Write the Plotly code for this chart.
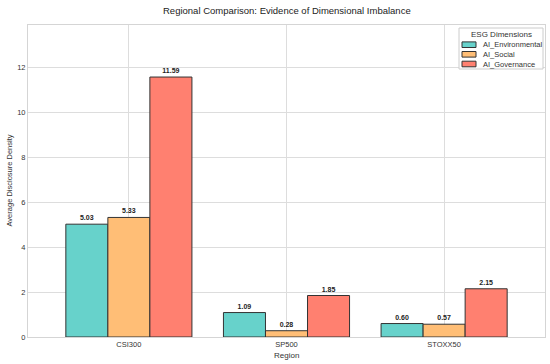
import plotly.graph_objects as go

regions = ["CSI300", "SP500", "STOXX50"]
ai_environmental = [5.03, 1.09, 0.60]
ai_social = [5.33, 0.28, 0.57]
ai_governance = [11.59, 1.85, 2.15]
series_names = ["AI_Environmental", "AI_Social", "AI_Governance"]
colors = ["#67D2CB", "#FFBE76", "#FF8070"]
y_ticks = [0, 2, 4, 6, 8, 10, 12]

W, H = 550, 364
ML, MR, MT, MB = 28, 5, 25, 27
PW, PH = W - ML - MR, H - MT - MB

def px(x):
    return (x - ML) / PW

def py(y):
    return (H - MB - y) / PH

FONT = "Liberation Sans, Arial, sans-serif"

fig = go.Figure()
for name, vals, col in zip(series_names, [ai_environmental, ai_social, ai_governance], colors):
    fig.add_trace(go.Bar(
        x=regions, y=vals, name=name,
        marker=dict(color=col, line=dict(color="#333333", width=1)),
        text=[f"{v:.2f}" for v in vals], textposition="outside",
        outsidetextfont=dict(size=7, color="#222222", family=FONT),
        texttemplate="<b>%{text}</b>",
        cliponaxis=False, showlegend=False, hoverinfo="skip",
    ))

shapes = []
annotations = []
# legend box
shapes.append(dict(type="rect", xref="paper", yref="paper",
                   x0=px(459), x1=px(543), y0=py(69), y1=py(28),
                   fillcolor="rgba(255,255,255,0.9)", line=dict(color="#cccccc", width=1), layer="above"))
annotations.append(dict(text="ESG Dimensions", xref="paper", yref="paper",
                        x=px(501), y=py(34.5), xanchor="center", yanchor="middle",
                        showarrow=False, font=dict(size=8, color="#333333", family=FONT)))
row_y = [44.7, 54.3, 64.0]
for name, col, ry in zip(series_names, colors, row_y):
    shapes.append(dict(type="rect", xref="paper", yref="paper",
                       x0=px(462), x1=px(476), y0=py(ry + 2.8), y1=py(ry - 2.8),
                       fillcolor=col, line=dict(color="#333333", width=1), layer="above"))
    annotations.append(dict(text=name, xref="paper", yref="paper",
                            x=px(481), y=py(ry), xanchor="left", yanchor="middle",
                            showarrow=False, font=dict(size=7.5, color="#333333", family=FONT)))

# axis titles
annotations.append(dict(text="Region", xref="paper", yref="paper",
                        x=px((ML + W - MR) / 2), y=py(355), xanchor="center", yanchor="middle",
                        showarrow=False, font=dict(size=8, color="#333333", family=FONT)))
annotations.append(dict(text="Average Disclosure Density", xref="paper", yref="paper",
                        x=px(8.5), y=py((MT + H - MB) / 2), xanchor="center", yanchor="middle",
                        textangle=-90, showarrow=False, font=dict(size=7.5, color="#333333", family=FONT)))
# title
annotations.append(dict(text="Regional Comparison: Evidence of Dimensional Imbalance",
                        xref="paper", yref="paper", x=px(287), y=py(11),
                        xanchor="center", yanchor="middle", showarrow=False,
                        font=dict(size=9.5, color="#222222", family=FONT)))

fig.update_layout(
    width=W, height=H,
    barmode="group", bargap=0.2, bargroupgap=0,
    paper_bgcolor="white", plot_bgcolor="white",
    font=dict(family=FONT, size=8, color="#333333"),
    margin=dict(l=ML, r=MR, t=MT, b=MB, autoexpand=False),
    showlegend=False, hovermode=False,
    shapes=shapes, annotations=annotations,
    xaxis=dict(
        range=[-0.64, 2.64], showgrid=True, gridcolor="#dddddd",
        showline=True, linecolor="#d5d5d5", mirror=True, ticks="",
        tickfont=dict(size=7.5), automargin=False, fixedrange=True,
    ),
    yaxis=dict(
        range=[0, 13.91], tickvals=y_ticks, showgrid=True, gridcolor="#dddddd",
        showline=True, linecolor="#d5d5d5", mirror=True, ticks="",
        tickfont=dict(size=7.5), zeroline=False, automargin=False, fixedrange=True,
    ),
)

fig.write_html("out.html", config={"displayModeBar": False, "staticPlot": True},
               post_script="document.body.style.margin='0';document.body.style.padding='0';")
